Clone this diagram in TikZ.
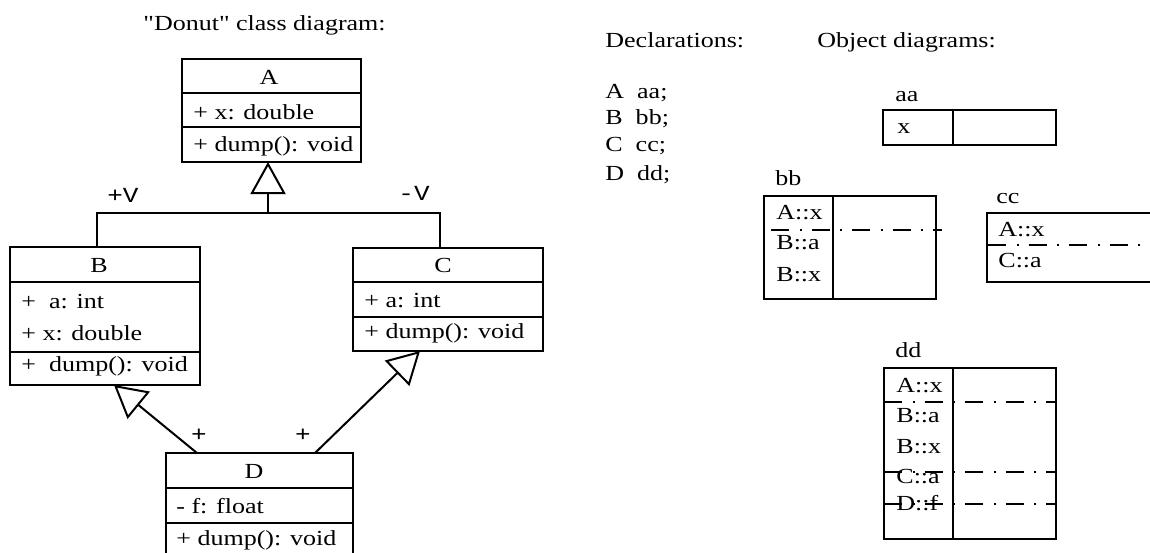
\documentclass[tikz,border=0pt]{standalone}
\usepackage{fontspec}
\setmainfont[FakeStretch=1.21]{Liberation Serif}
\newfontfamily\qf[FakeStretch=1.21]{Liberation Serif}
\newfontfamily\monof[FakeStretch=1.21]{Liberation Mono}
\usetikzlibrary{arrows.meta}
\newcommand\fsz{\fontsize{10.75}{13}\selectfont}
\tikzset{
  cls/.style={draw, line width=1pt, anchor=north west, inner sep=0pt, outer sep=0pt},
  txt/.style={anchor=base west, inner sep=0pt, font=\fsz},
  ctxt/.style={anchor=base, inner sep=0pt, font=\fsz},
  mtxt/.style={anchor=base, inner sep=0pt, font=\fsz\monof},
  conn/.style={line width=1pt},
  gen/.style={line width=1pt, -{Triangle[open,length=16pt,width=17.5pt]}},
  sep/.style={line width=1pt},
  dd/.style={line width=1pt, dash pattern=on 9pt off 5.25pt on 1pt off 5pt},
}
\begin{document}
\begin{tikzpicture}[x=0.5pt,y=-0.5pt]
\useasboundingbox (0,0) rectangle (1150,552);
% ---------- class diagram ----------
\node[txt] (title) at (143,30) {{\qf"Donut"} class diagram:};
% A
\node[cls, minimum width=89.5pt, minimum height=51.5pt] (A) at (182,59) {};
\draw[sep] (182,93) -- (361,93);
\draw[sep] (182,127) -- (361,127);
\node[ctxt] (An) at (269,84) {A};
\node[txt] (Aa) at (193,119) {+ x: double};
\node[txt] (Ao) at (193,151) {+ dump(): void};
% B
\node[cls, minimum width=95pt, minimum height=69pt] (B) at (10,247) {};
\draw[sep] (10,282) -- (200,282);
\draw[sep] (10,352) -- (200,352);
\node[ctxt] (Bn) at (99,272) {B};
\node[txt] (Ba1) at (21,308) {+\ \ a: int};
\node[txt] (Ba2) at (21,340) {+ x: double};
\node[txt] (Bo) at (21,371) {+\ \ dump(): void};
% C
\node[cls, minimum width=95pt, minimum height=51.5pt] (C) at (353,248) {};
\draw[sep] (353,282) -- (543,282);
\draw[sep] (353,317) -- (543,317);
\node[ctxt] (Cn) at (443,272) {C};
\node[txt] (Ca) at (364,307) {+ a: int};
\node[txt] (Co) at (364,338) {+ dump(): void};
% D
\node[cls, minimum width=93.5pt, minimum height=52pt] (D) at (166,453) {};
\draw[sep] (166,488) -- (353,488);
\draw[sep] (166,523) -- (353,523);
\node[ctxt] (Dn) at (254,478) {D};
\node[txt] (Da) at (176,513) {- f: float};
\node[txt] (Do) at (176,545) {+ dump(): void};
% connectors
\coordinate (Ab) at (268,162);
\coordinate (J) at (268,213);
\coordinate (Bt) at (97,247);
\coordinate (Bj) at (97,213);
\coordinate (Cj) at (440,213);
\coordinate (Ct) at (440,248);
\draw[conn] (Bt) -- (Bj) -- (Cj) -- (Ct);
\draw[gen] (J) -- (Ab);
\coordinate (Dl) at (197,453);
\coordinate (Bb) at (114,385);
\coordinate (Dr) at (315,453);
\coordinate (Cb) at (420,351);
\draw[gen] (Dl) -- (Bb);
\draw[gen] (Dr) -- (Cb);
\node[mtxt] (lV1) at (123,202) {+V};
\node[mtxt] (lV2) at (414,200) {-V};
\node[mtxt] (lp1) at (199,441) {+};
\node[mtxt] (lp2) at (303,441) {+};
% ---------- declarations ----------
\node[txt] (decl) at (605,47) {Declarations:};
\node[txt] (d1) at (605,98) {A\ \ aa;};
\node[txt] (d2) at (605,124) {B\ \ bb;};
\node[txt] (d3) at (605,151) {C\ \ cc;};
\node[txt] (d4) at (605,180) {D\ \ dd;};
% ---------- object diagrams ----------
\node[txt] (obj) at (817,47) {Object diagrams:};
% aa
\node[txt] (aal) at (895,101) {aa};
\draw[sep] (883,110) rectangle (1056,145);
\draw[sep] (953,110) -- (953,145);
\node[txt] (aax) at (897,133) {x};
% bb
\node[txt] (bbl) at (775,185) {bb};
\draw[sep] (764,196) rectangle (936,299);
\draw[sep] (833,196) -- (833,299);
\node[txt] (bb1) at (776,219) {A::x};
\node[txt] (bb2) at (776,249) {B::a};
\node[txt] (bb3) at (776,281) {B::x};
\draw[dd] (771,230) -- (942,230);
% cc
\node[txt] (ccl) at (996,203) {cc};
\draw[sep] (987,213) rectangle (1165,282);
\node[txt] (cc1) at (998,236) {A::x};
\node[txt] (cc2) at (998,267) {C::a};
\draw[dd] (988,245) -- (1160,245);
% dd
\node[txt] (ddl) at (895,357) {dd};
\draw[sep] (884,368) rectangle (1056,539);
\draw[sep] (953,368) -- (953,539);
\node[txt] (dd1) at (896,392) {A::x};
\node[txt] (dd2) at (896,422) {B::a};
\node[txt] (dd3) at (896,453) {B::x};
\node[txt] (dd4) at (896,483) {C::a};
\node[txt] (dd5) at (896,510) {D::f};
\draw[dd] (884,402) -- (1057,402);
\draw[dd] (884,472) -- (1057,472);
\draw[dd] (884,504) -- (1057,504);
\end{tikzpicture}
\end{document}
